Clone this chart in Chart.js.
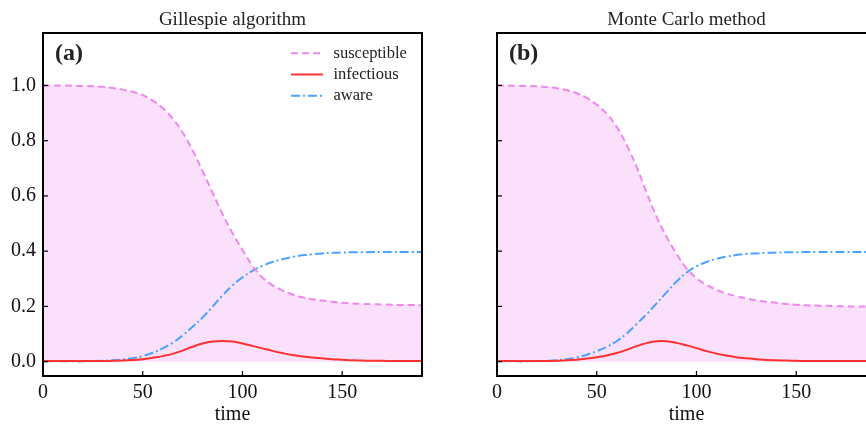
<!DOCTYPE html>
<html>
<head>
<meta charset="utf-8">
<script src="https://cdn.jsdelivr.net/npm/chart.js@4.4.1/dist/chart.umd.min.js"></script>
<style>
  body { margin: 0; background: #fff; overflow: hidden; width: 866px; height: 424px; position: relative; }
  .panel { position: absolute; top: 0; width: 464px; height: 424px; }
  #panelA { left: 0; }
  #panelB { left: 454px; }
</style>
</head>
<body>
<div class="panel" id="panelA"><canvas id="chartA"></canvas></div>
<div class="panel" id="panelB"><canvas id="chartB"></canvas></div>
<script>
// time grid (every 5 units)
const times = [0, 5, 10, 15, 20, 25, 30, 35, 40, 45, 50, 55, 60, 65, 70, 75, 80, 85, 90, 95,
    100, 105, 110, 115, 120, 125, 130, 135, 140, 145, 150, 155, 160, 165, 170, 175, 180, 185, 190];

// (a) Gillespie algorithm
const susceptibleA = [1.000, 1.000, 1.000, 0.999, 0.998, 0.997, 0.995, 0.991, 0.985, 0.977,
    0.965, 0.945, 0.918, 0.880, 0.830, 0.765, 0.690, 0.612, 0.535, 0.465,
    0.405, 0.347, 0.305, 0.277, 0.258, 0.243, 0.233, 0.226, 0.221, 0.217,
    0.213, 0.211, 0.209, 0.208, 0.207, 0.206, 0.205, 0.205, 0.204];
const infectiousA = [0.002, 0.002, 0.002, 0.002, 0.002, 0.002, 0.002, 0.003, 0.004, 0.006,
    0.009, 0.014, 0.020, 0.028, 0.040, 0.054, 0.066, 0.073, 0.075, 0.073,
    0.066, 0.057, 0.048, 0.039, 0.031, 0.024, 0.019, 0.015, 0.012, 0.009,
    0.007, 0.005, 0.004, 0.003, 0.003, 0.002, 0.002, 0.002, 0.002];
const awareA = [0.001, 0.001, 0.001, 0.001, 0.001, 0.002, 0.003, 0.005, 0.008, 0.012,
    0.020, 0.032, 0.048, 0.068, 0.095, 0.126, 0.160, 0.199, 0.240, 0.276,
    0.305, 0.329, 0.347, 0.361, 0.371, 0.379, 0.385, 0.389, 0.392, 0.394,
    0.395, 0.396, 0.396, 0.397, 0.397, 0.397, 0.397, 0.397, 0.397];

// (b) Monte Carlo method
const susceptibleB = [1.000, 1.000, 0.999, 0.998, 0.997, 0.994, 0.990, 0.983, 0.972, 0.955,
    0.930, 0.898, 0.850, 0.785, 0.705, 0.612, 0.525, 0.452, 0.390, 0.338,
    0.302, 0.278, 0.260, 0.247, 0.237, 0.229, 0.222, 0.217, 0.213, 0.209,
    0.206, 0.204, 0.203, 0.202, 0.201, 0.200, 0.200, 0.200, 0.200];
const infectiousB = [0.002, 0.002, 0.002, 0.002, 0.002, 0.002, 0.003, 0.005, 0.007, 0.011,
    0.016, 0.022, 0.031, 0.043, 0.056, 0.067, 0.074, 0.074, 0.068, 0.059,
    0.049, 0.038, 0.029, 0.022, 0.016, 0.012, 0.009, 0.006, 0.005, 0.004,
    0.003, 0.002, 0.002, 0.002, 0.002, 0.002, 0.002, 0.002, 0.002];
const awareB = [0.001, 0.001, 0.001, 0.001, 0.002, 0.003, 0.005, 0.009, 0.015, 0.025,
    0.038, 0.053, 0.074, 0.102, 0.136, 0.172, 0.211, 0.251, 0.290, 0.322,
    0.345, 0.361, 0.372, 0.380, 0.386, 0.390, 0.392, 0.394, 0.395, 0.396,
    0.396, 0.397, 0.397, 0.397, 0.397, 0.397, 0.397, 0.397, 0.397];

const seriesLabels = ["susceptible", "infectious", "aware"];
const xTicks = [0, 50, 100, 150];
const yTicks = [0.0, 0.2, 0.4, 0.6, 0.8, 1.0];

const SERIF = '"Liberation Serif", "DejaVu Serif", serif';

// frame, inward ticks, title, panel tag and legend
const panelDecor = {
    id: "panelDecor",
    afterDraw(chart, args, opts) {
        const { ctx, chartArea: a, scales: { x, y } } = chart;
        ctx.save();
        ctx.strokeStyle = "#000";
        ctx.lineWidth = 1.2;
        x.ticks.forEach(t => {
            const px = x.getPixelForValue(t.value);
            ctx.beginPath(); ctx.moveTo(px, a.bottom); ctx.lineTo(px, a.bottom - 5); ctx.stroke();
        });
        y.ticks.forEach(t => {
            const py = y.getPixelForValue(t.value);
            ctx.beginPath(); ctx.moveTo(a.left, py); ctx.lineTo(a.left + 5, py); ctx.stroke();
        });
        ctx.lineWidth = 2;
        ctx.strokeRect(a.left, a.top, a.width, a.height);

        ctx.fillStyle = "#222";
        ctx.font = "19px " + SERIF;
        ctx.textAlign = "center";
        ctx.textBaseline = "alphabetic";
        ctx.fillText(opts.title, (a.left + a.right) / 2, 25);

        ctx.font = "bold 24px " + SERIF;
        ctx.textAlign = "left";
        ctx.fillText(opts.tag, a.left + 12, 60);

        if (opts.legend) {
            ctx.font = "16.5px " + SERIF;
            ctx.textBaseline = "middle";
            chart.data.datasets.forEach((ds, i) => {
                const ly = 53.3 + i * 21.2;
                ctx.strokeStyle = ds.borderColor;
                ctx.lineWidth = 2;
                ctx.setLineDash(ds.borderDash || []);
                ctx.beginPath(); ctx.moveTo(a.right - 131, ly); ctx.lineTo(a.right - 99, ly); ctx.stroke();
                ctx.setLineDash([]);
                ctx.fillStyle = "#222";
                ctx.fillText(ds.label, a.right - 88.5, ly);
            });
        }
        ctx.restore();
    }
};

function pts(values) {
    return times.map((t, i) => ({ x: t, y: values[i] }));
}

function makeChart(id, s, inf, aw, title, tag, showLegend, showYLabels) {
    return new Chart(document.getElementById(id), {
        type: "line",
        data: {
            datasets: [{
                label: seriesLabels[0],
                data: pts(s),
                borderColor: "#ee88ee",
                backgroundColor: "rgba(238, 130, 238, 0.25)",
                borderDash: [7, 4],
                fill: "origin",
                borderWidth: 2
            }, {
                label: seriesLabels[1],
                data: pts(inf),
                borderColor: "#ff3030",
                borderWidth: 2,
                fill: false
            }, {
                label: seriesLabels[2],
                data: pts(aw),
                borderColor: "#4aa3ff",
                borderDash: [9, 3, 2, 3],
                borderWidth: 2,
                fill: false
            }]
        },
        options: {
            responsive: true,
            maintainAspectRatio: false,
            animation: false,
            layout: { padding: { top: 33, right: 42, bottom: 0, left: 0 } },
            elements: { point: { radius: 0 }, line: { tension: 0.4 } },
            scales: {
                x: {
                    type: "linear",
                    min: 0,
                    max: 190,
                    afterBuildTicks: sc => { sc.ticks = xTicks.map(v => ({ value: v })); },
                    afterFit: sc => { sc.height = 48; },
                    grid: { display: false, drawTicks: false },
                    border: { display: false },
                    ticks: { padding: 5, color: "#111", font: { family: SERIF, size: 20 } },
                    title: { display: true, text: "time", color: "#111", padding: { top: 0, bottom: -3 }, font: { family: SERIF, size: 20 } }
                },
                y: {
                    min: -0.052,
                    max: 1.19,
                    afterBuildTicks: sc => { sc.ticks = yTicks.map(v => ({ value: v })); },
                    afterFit: sc => { sc.width = 43; },
                    grid: { display: false, drawTicks: false },
                    border: { display: false },
                    ticks: {
                        display: showYLabels,
                        padding: 7,
                        color: "#111",
                        font: { family: SERIF, size: 20 },
                        callback: v => v.toFixed(1)
                    }
                }
            },
            plugins: {
                legend: { display: false },
                tooltip: { enabled: false },
                filler: { drawTime: "beforeDatasetsDraw" },
                panelDecor: { title: title, tag: tag, legend: showLegend }
            }
        },
        plugins: [panelDecor]
    });
}

makeChart("chartA", susceptibleA, infectiousA, awareA, "Gillespie algorithm", "(a)", true, true);
makeChart("chartB", susceptibleB, infectiousB, awareB, "Monte Carlo method", "(b)", false, false);
</script>
</body>
</html>
